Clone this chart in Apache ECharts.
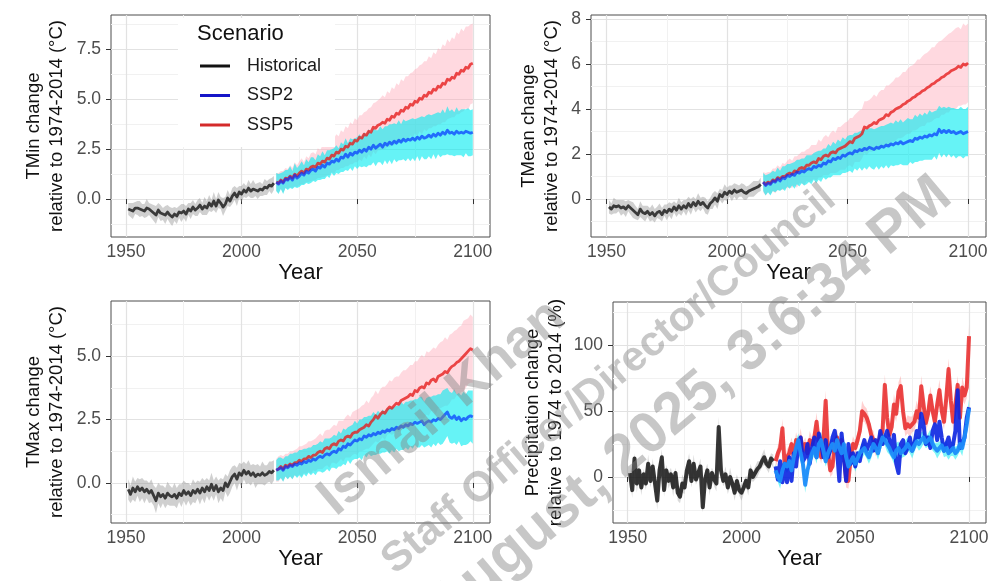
<!DOCTYPE html>
<html>
<head>
<meta charset="utf-8">
<script src="https://cdn.jsdelivr.net/npm/echarts@6/dist/echarts.min.js"></script>
<style>
  html, body { margin: 0; padding: 0; background: #fff; }
  #chart { width: 997px; height: 581px; }
</style>
</head>
<body>
<div id="chart"></div>
<script>
// ---- years -------------------------------------------------------------
const histYears = Array.from({ length: 64 }, (_, i) => 1951 + i);   // 1951-2014
const futureYears = Array.from({ length: 86 }, (_, i) => 2015 + i); // 2015-2100

// ---- tick labels ---------------------------------------------------------
const xTicks = [1950, 2000, 2050, 2100];
const xMinorTicks = [1975, 2025, 2075];

// ---- TMin (°C) -------------------------------------------------------------
const tminHist = [
  -0.5, -0.55, -0.6, -0.45, -0.45, -0.5, -0.55, -0.6, -0.45, -0.5,
  -0.6, -0.7, -0.8, -0.55, -0.7, -0.75, -0.8, -0.65, -0.8, -0.9,
  -0.75, -0.85, -0.65, -0.7, -0.6, -0.75, -0.5, -0.6, -0.4, -0.55,
  -0.45, -0.3, -0.5, -0.35, -0.45, -0.2, -0.35, -0.1, -0.35, -0.05,
  -0.2, -0.4, -0.25, 0.05, -0.1, 0.15, 0.3, 0.1, 0.35, 0.25,
  0.45, 0.35, 0.55, 0.4, 0.5, 0.45, 0.4, 0.5, 0.45, 0.6,
  0.55, 0.7, 0.65, 0.8
];
const tminHistSpread = [
  0.3, 0.35, 0.4, 0.3, 0.35, 0.4, 0.3, 0.35, 0.45, 0.3,
  0.35, 0.4, 0.45, 0.35, 0.4, 0.3, 0.45, 0.35, 0.4, 0.45,
  0.35, 0.4, 0.3, 0.45, 0.35, 0.4, 0.3, 0.4, 0.35, 0.3,
  0.4, 0.35, 0.3, 0.45, 0.35, 0.4, 0.3, 0.45, 0.35, 0.4,
  0.3, 0.45, 0.35, 0.4, 0.3, 0.4, 0.35, 0.45, 0.3, 0.4,
  0.35, 0.3, 0.4, 0.35, 0.45, 0.3, 0.4, 0.35, 0.3, 0.4,
  0.35, 0.3, 0.4, 0.35
];
const tminSsp2 = [
  0.85, 0.75, 0.9, 0.8, 1.0, 0.95,
  1.1, 0.95, 1.2, 1.05, 1.15, 1.3, 1.2, 1.4, 1.3, 1.45,
  1.5, 1.4, 1.6, 1.55, 1.7, 1.6, 1.8, 1.75, 1.9, 1.85,
  2.0, 1.9, 2.1, 2.05, 2.25, 2.1, 2.3, 2.2, 2.35, 2.3,
  2.45, 2.35, 2.5, 2.4, 2.6, 2.5, 2.7, 2.55, 2.65, 2.75,
  2.6, 2.8, 2.7, 2.85, 2.75, 2.9, 2.8, 2.95, 2.85, 3.0,
  2.9, 3.0, 2.95, 3.05, 2.95, 3.1, 3.0, 3.15, 3.05, 3.1,
  3.2, 3.1, 3.25, 3.15, 3.3, 3.2, 3.35, 3.25, 3.45, 3.3,
  3.35, 3.25, 3.4, 3.3, 3.35, 3.3, 3.4, 3.35, 3.3, 3.35
];
const tminSsp2Spread = [
  0.45, 0.5, 0.4, 0.55, 0.45, 0.5,
  0.55, 0.45, 0.6, 0.5, 0.55, 0.6, 0.5, 0.6, 0.55, 0.65,
  0.6, 0.55, 0.65, 0.6, 0.7, 0.6, 0.65, 0.7, 0.6, 0.7,
  0.7, 0.65, 0.75, 0.7, 0.8, 0.7, 0.75, 0.8, 0.7, 0.8,
  0.8, 0.75, 0.85, 0.8, 0.9, 0.8, 0.85, 0.9, 0.8, 0.9,
  0.9, 0.85, 0.95, 0.9, 1.0, 0.9, 0.95, 1.0, 0.9, 1.0,
  1.0, 0.95, 1.05, 1.0, 1.05, 0.95, 1.1, 1.0, 1.05, 1.1,
  1.05, 1.1, 1.0, 1.15, 1.05, 1.1, 1.15, 1.05, 1.2, 1.1,
  1.15, 1.1, 1.2, 1.1, 1.15, 1.2, 1.1, 1.2, 1.15, 1.15
];
const tminSsp5 = [
  0.85, 0.8, 0.95, 0.85, 1.05, 1.0,
  1.15, 1.05, 1.25, 1.15, 1.3, 1.4, 1.3, 1.5, 1.45, 1.6,
  1.65, 1.6, 1.8, 1.75, 1.9, 1.85, 2.05, 2.0, 2.2, 2.15,
  2.35, 2.3, 2.5, 2.45, 2.65, 2.6, 2.8, 2.75, 2.95, 2.9,
  3.1, 3.05, 3.25, 3.2, 3.4, 3.35, 3.6, 3.55, 3.7, 3.75,
  3.85, 3.8, 4.0, 3.95, 4.15, 4.1, 4.3, 4.25, 4.45, 4.4,
  4.6, 4.55, 4.75, 4.7, 4.9, 4.85, 5.05, 5.0, 5.2, 5.15,
  5.35, 5.3, 5.5, 5.45, 5.65, 5.6, 5.8, 5.75, 6.0, 5.95,
  6.1, 6.05, 6.3, 6.25, 6.45, 6.4, 6.6, 6.55, 6.75, 6.8
];
const tminSsp5Spread = [
  0.45, 0.5, 0.45, 0.55, 0.5, 0.5,
  0.55, 0.5, 0.6, 0.55, 0.6, 0.65, 0.55, 0.65, 0.6, 0.7,
  0.7, 0.65, 0.75, 0.7, 0.8, 0.75, 0.85, 0.8, 0.85, 0.9,
  0.9, 0.85, 0.95, 0.9, 1.0, 0.95, 1.05, 1.0, 1.1, 1.05,
  1.1, 1.15, 1.1, 1.2, 1.15, 1.25, 1.2, 1.3, 1.25, 1.3,
  1.35, 1.3, 1.4, 1.35, 1.45, 1.4, 1.5, 1.45, 1.55, 1.5,
  1.55, 1.6, 1.55, 1.65, 1.6, 1.7, 1.65, 1.75, 1.7, 1.75,
  1.8, 1.75, 1.85, 1.8, 1.9, 1.85, 1.95, 1.9, 2.0, 1.9,
  2.0, 1.95, 2.05, 2.0, 2.1, 2.0, 2.05, 2.1, 2.0, 2.0
];

// ---- TMean (°C) ------------------------------------------------------------
const tmeanHist = [
  -0.35, -0.45, -0.3, -0.35, -0.3, -0.4, -0.35, -0.45, -0.3, -0.4,
  -0.5, -0.6, -0.7, -0.45, -0.6, -0.65, -0.55, -0.7, -0.6, -0.75,
  -0.6, -0.55, -0.7, -0.5, -0.6, -0.45, -0.55, -0.35, -0.5, -0.3,
  -0.45, -0.3, -0.4, -0.2, -0.35, -0.15, -0.3, -0.1, -0.25, -0.15,
  -0.3, -0.4, -0.2, -0.1, 0.05, -0.1, 0.2, 0.1, 0.3, 0.2,
  0.35, 0.25, 0.4, 0.3, 0.35, 0.4, 0.3, 0.25, 0.35, 0.4,
  0.45, 0.5, 0.55, 0.65
];
const tmeanHistSpread = [
  0.3, 0.25, 0.35, 0.3, 0.25, 0.35, 0.3, 0.35, 0.25, 0.3,
  0.35, 0.3, 0.25, 0.35, 0.3, 0.35, 0.25, 0.3, 0.35, 0.3,
  0.25, 0.35, 0.3, 0.25, 0.35, 0.3, 0.35, 0.25, 0.3, 0.35,
  0.3, 0.25, 0.35, 0.3, 0.35, 0.25, 0.3, 0.35, 0.3, 0.25,
  0.35, 0.3, 0.25, 0.35, 0.3, 0.35, 0.25, 0.3, 0.35, 0.3,
  0.25, 0.35, 0.3, 0.35, 0.25, 0.3, 0.35, 0.3, 0.25, 0.3,
  0.35, 0.3, 0.25, 0.3
];
const tmeanSsp2 = [
  0.75, 0.6, 0.7, 0.65, 0.8, 0.75,
  0.9, 0.8, 0.95, 0.9, 1.05, 1.0, 1.1, 1.05, 1.2, 1.15,
  1.25, 1.2, 1.3, 1.35, 1.3, 1.45, 1.4, 1.5, 1.45, 1.6,
  1.55, 1.7, 1.65, 1.8, 1.75, 1.85, 1.8, 1.95, 1.9, 2.0,
  2.05, 2.0, 2.15, 2.1, 2.2, 2.15, 2.25, 2.2, 2.3, 2.25,
  2.2, 2.3, 2.25, 2.35, 2.3, 2.4, 2.35, 2.45, 2.4, 2.5,
  2.45, 2.55, 2.45, 2.5, 2.55, 2.6, 2.55, 2.7, 2.65, 2.75,
  2.7, 2.8, 2.75, 2.85, 2.8, 2.9, 2.85, 3.1, 2.95, 3.05,
  2.95, 3.05, 2.95, 3.0, 2.9, 2.95, 3.0, 2.9, 2.95, 3.0
];
const tmeanSsp2Spread = [
  0.4, 0.45, 0.4, 0.5, 0.45, 0.45,
  0.5, 0.45, 0.5, 0.55, 0.5, 0.55, 0.5, 0.6, 0.55, 0.6,
  0.55, 0.6, 0.65, 0.6, 0.65, 0.6, 0.7, 0.65, 0.7, 0.65,
  0.7, 0.75, 0.7, 0.75, 0.7, 0.8, 0.75, 0.8, 0.75, 0.8,
  0.8, 0.85, 0.8, 0.85, 0.8, 0.9, 0.85, 0.9, 0.85, 0.9,
  0.9, 0.85, 0.95, 0.9, 0.95, 0.9, 1.0, 0.95, 0.95, 1.0,
  0.95, 1.0, 0.95, 1.0, 1.05, 0.95, 1.0, 1.05, 1.0, 1.05,
  1.0, 1.05, 1.0, 1.1, 1.05, 1.0, 1.1, 1.05, 1.1, 1.05,
  1.1, 1.05, 1.1, 1.05, 1.1, 1.05, 1.1, 1.1, 1.05, 1.1
];
const tmeanSsp5 = [
  0.75, 0.65, 0.75, 0.7, 0.85, 0.8,
  0.95, 0.9, 1.0, 1.0, 1.1, 1.15, 1.1, 1.25, 1.2, 1.35,
  1.4, 1.35, 1.5, 1.5, 1.6, 1.65, 1.6, 1.8, 1.75, 1.9,
  1.95, 1.9, 2.05, 2.1, 2.05, 2.2, 2.25, 2.3, 2.35, 2.45,
  2.55, 2.5, 2.7, 2.75, 2.8, 2.9, 3.2, 3.15, 3.25, 3.3,
  3.4, 3.35, 3.5, 3.55, 3.6, 3.75, 3.7, 3.85, 3.9, 4.0,
  4.05, 4.1, 4.2, 4.25, 4.35, 4.4, 4.5, 4.55, 4.65, 4.7,
  4.8, 4.85, 4.95, 5.0, 5.1, 5.15, 5.25, 5.3, 5.4, 5.45,
  5.55, 5.6, 5.7, 5.75, 5.8, 5.9, 5.85, 6.0, 5.95, 6.05
];
const tmeanSsp5Spread = [
  0.45, 0.5, 0.45, 0.5, 0.5, 0.55,
  0.55, 0.5, 0.6, 0.55, 0.6, 0.65, 0.6, 0.65, 0.7, 0.65,
  0.7, 0.75, 0.7, 0.75, 0.8, 0.75, 0.8, 0.85, 0.8, 0.85,
  0.9, 0.85, 0.9, 0.95, 0.9, 1.0, 0.95, 1.0, 1.05, 1.0,
  1.05, 1.1, 1.05, 1.1, 1.15, 1.1, 1.15, 1.2, 1.15, 1.2,
  1.25, 1.2, 1.25, 1.3, 1.25, 1.3, 1.35, 1.3, 1.35, 1.4,
  1.35, 1.4, 1.45, 1.4, 1.45, 1.5, 1.45, 1.5, 1.55, 1.5,
  1.55, 1.6, 1.55, 1.6, 1.65, 1.6, 1.65, 1.7, 1.65, 1.7,
  1.7, 1.75, 1.7, 1.75, 1.8, 1.75, 1.7, 1.8, 1.75, 1.75
];

// ---- TMax (°C) -------------------------------------------------------------
const tmaxHist = [
  -0.25, -0.45, -0.2, -0.35, -0.15, -0.3, -0.2, -0.35, -0.25, -0.4,
  -0.3, -0.5, -0.7, -0.4, -0.55, -0.45, -0.6, -0.4, -0.5, -0.55,
  -0.45, -0.6, -0.4, -0.5, -0.3, -0.45, -0.35, -0.5, -0.3, -0.4,
  -0.25, -0.4, -0.2, -0.35, -0.15, -0.3, -0.05, -0.3, -0.1, -0.35,
  -0.2, -0.3, 0.0, -0.15, 0.05, 0.25, 0.35, 0.15, 0.4, 0.3,
  0.5, 0.35, 0.45, 0.3, 0.4, 0.25, 0.35, 0.3, 0.4, 0.3,
  0.35, 0.45, 0.4, 0.5
];
const tmaxHistSpread = [
  0.4, 0.35, 0.45, 0.4, 0.35, 0.45, 0.4, 0.45, 0.35, 0.4,
  0.45, 0.4, 0.5, 0.4, 0.45, 0.35, 0.4, 0.45, 0.4, 0.35,
  0.45, 0.4, 0.35, 0.45, 0.4, 0.45, 0.35, 0.4, 0.45, 0.4,
  0.35, 0.45, 0.4, 0.45, 0.35, 0.4, 0.45, 0.4, 0.35, 0.45,
  0.4, 0.45, 0.35, 0.4, 0.45, 0.4, 0.35, 0.45, 0.4, 0.45,
  0.35, 0.4, 0.45, 0.4, 0.35, 0.45, 0.4, 0.35, 0.45, 0.4,
  0.35, 0.4, 0.45, 0.4
];
const tmaxSsp2 = [
  0.5, 0.55, 0.6, 0.5, 0.65, 0.6,
  0.7, 0.65, 0.75, 0.7, 0.8, 0.75, 0.85, 0.8, 0.9, 0.85,
  0.95, 0.9, 1.0, 1.05, 1.0, 1.1, 1.15, 1.1, 1.2, 1.25,
  1.2, 1.35, 1.3, 1.45, 1.4, 1.55, 1.5, 1.6, 1.7, 1.65,
  1.75, 1.7, 1.85, 1.8, 1.9, 1.85, 1.95, 1.9, 2.0, 1.95,
  2.05, 2.0, 2.1, 2.05, 2.15, 2.1, 2.2, 2.15, 2.25, 2.2,
  2.3, 2.25, 2.35, 2.3, 2.4, 2.35, 2.4, 2.45, 2.3, 2.4,
  2.45, 2.4, 2.5, 2.45, 2.55, 2.5, 2.6, 2.7, 2.8, 2.6,
  2.55, 2.65, 2.5, 2.6, 2.45, 2.55, 2.5, 2.6, 2.65, 2.6
];
const tmaxSsp2Spread = [
  0.4, 0.45, 0.4, 0.45, 0.4, 0.45,
  0.45, 0.5, 0.45, 0.5, 0.5, 0.55, 0.5, 0.55, 0.5, 0.55,
  0.55, 0.6, 0.55, 0.6, 0.6, 0.65, 0.6, 0.65, 0.6, 0.65,
  0.65, 0.7, 0.65, 0.7, 0.7, 0.65, 0.75, 0.7, 0.75, 0.7,
  0.75, 0.8, 0.75, 0.8, 0.75, 0.8, 0.85, 0.8, 0.85, 0.8,
  0.85, 0.8, 0.85, 0.9, 0.85, 0.9, 0.85, 0.9, 0.95, 0.9,
  0.9, 0.95, 0.9, 0.95, 0.9, 0.95, 1.0, 0.95, 0.9, 0.95,
  0.95, 1.0, 0.95, 1.0, 0.95, 1.0, 1.05, 1.0, 0.95, 1.0,
  1.0, 1.05, 1.0, 0.95, 1.0, 1.05, 1.0, 1.05, 1.0, 1.05
];
const tmaxSsp5 = [
  0.5, 0.55, 0.65, 0.55, 0.7, 0.65,
  0.75, 0.7, 0.8, 0.8, 0.9, 0.85, 0.95, 0.95, 1.05, 1.0,
  1.1, 1.1, 1.2, 1.25, 1.2, 1.35, 1.4, 1.35, 1.5, 1.55,
  1.5, 1.65, 1.7, 1.65, 1.8, 1.85, 1.8, 1.95, 2.0, 2.0,
  2.1, 2.15, 2.2, 2.3, 2.25, 2.4, 2.5, 2.65, 2.55, 2.7,
  2.8, 2.75, 2.9, 3.0, 2.95, 3.05, 3.15, 3.1, 3.25, 3.3,
  3.35, 3.4, 3.5, 3.45, 3.65, 3.6, 3.75, 3.8, 3.75, 3.95,
  3.9, 4.05, 4.1, 4.0, 4.2, 4.25, 4.3, 4.4, 4.35, 4.5,
  4.6, 4.65, 4.75, 4.8, 4.9, 5.0, 5.1, 5.2, 5.3, 5.25
];
const tmaxSsp5Spread = [
  0.45, 0.5, 0.45, 0.5, 0.45, 0.5,
  0.5, 0.55, 0.5, 0.55, 0.55, 0.6, 0.55, 0.6, 0.6, 0.65,
  0.6, 0.65, 0.65, 0.7, 0.65, 0.7, 0.7, 0.75, 0.7, 0.75,
  0.75, 0.8, 0.75, 0.8, 0.8, 0.85, 0.8, 0.85, 0.85, 0.9,
  0.85, 0.9, 0.9, 0.95, 0.9, 0.95, 0.95, 1.0, 0.95, 1.0,
  1.0, 1.05, 1.0, 1.05, 1.05, 1.1, 1.05, 1.1, 1.1, 1.15,
  1.1, 1.15, 1.15, 1.2, 1.15, 1.2, 1.2, 1.25, 1.2, 1.25,
  1.25, 1.2, 1.25, 1.3, 1.25, 1.3, 1.3, 1.35, 1.3, 1.35,
  1.3, 1.35, 1.3, 1.35, 1.3, 1.4, 1.35, 1.3, 1.35, 1.3
];

// ---- Precipitation (%) ---------------------------------------------------
const precHist = [
  3, -10, 14, -5, 5, -8, 2, -5, 10, -3,
  8, -5, -18, 5, 15, -10, 5, -3, 2, -8,
  3, -12, -15, -5, -8, 5, 12, -3, 10, -2,
  3, 8, -23, -2, 5, -8, 3, -2, -5, 38,
  5, -3, 2, -8, 0, -5, -12, -3, -10, -12,
  -8, -3, -8, 5, 0, 3, 6, 8, 12, 15,
  10, 8, 14, 12
];
const precHistSpread = [
  5, 6, 4, 7, 5, 6, 4, 5, 7, 5,
  6, 4, 7, 5, 6, 5, 4, 6, 5, 7,
  4, 6, 5, 7, 5, 4, 6, 5, 7, 4,
  5, 6, 4, 7, 5, 6, 4, 5, 6, 8,
  5, 4, 6, 5, 7, 4, 6, 5, 4, 6,
  5, 4, 6, 5, 4, 5, 6, 4, 5, 6,
  4, 5, 4, 5
];
const precSsp5 = [
  12, 18, 22, 37, 8, 15,
  18, 25, 15, 28, 22, 30, 20, 25, 18, 28,
  25, 30, 42, 25, 15, 28, 58, 20, 5, 8,
  25, 30, 22, 28, 18, -3, -3, 15, 25, 22,
  28, 35, 50, 48, 45, 40, 32, 28, 22, 25,
  30, 35, 70, 45, 32, 38, 55, 48, 65, 69,
  50, 37, 40, 38, 40, 42, 50, 45, 69, 55,
  41, 48, 62, 50, 42, 55, 66, 50, 42, 60,
  82, 58, 42, 55, 70, 45, 68, 62, 68, 107
];
const precSsp5Spread = [
  5, 6, 5, 7, 5, 6,
  6, 5, 7, 6, 5, 7, 6, 5, 6, 7,
  5, 6, 7, 6, 5, 6, 8, 6, 5, 6,
  7, 6, 5, 7, 6, 5, 6, 7, 6, 5,
  6, 7, 8, 6, 7, 6, 5, 7, 6, 7,
  6, 7, 8, 7, 6, 7, 8, 6, 7, 8,
  7, 6, 7, 8, 6, 7, 8, 7, 8, 7,
  6, 8, 7, 8, 6, 7, 8, 7, 6, 8,
  8, 7, 6, 8, 7, 6, 8, 7, 8, 9
];
const precSsp2 = [
  8, -2, 12, -4, 10, -4,
  15, -3, 18, 8, 25, 30, 12, 15, 25, 10,
  22, 30, 15, 33, 25, 15, 28, 15, 20, 30,
  35, 20, -3, 33, 15, -3, 25, 10, 18, 8,
  18, 12, 22, 28, 20, 25, 30, 20, 28, 22,
  35, 25, 30, 35, 28, 20, 32, 10, 3, 25,
  28, 18, 22, 30, 20, 25, 35, 30, 48, 40,
  25, 30, 22, 35, 40, 28, 42, 30, 20, 25,
  30, 20, 25, 35, 66, 22, 25, 30, 45, 53
];
const precSsp2Mean = [
  5, 0, -3, 5, 10, 8,
  12, 5, 15, 22, 28, 18, 10, -6, 5, 12,
  18, 22, 15, 25, 28, 20, 12, 18, 22, 25,
  20, 28, 22, 18, 25, 15, 8, 12, 15, 10,
  14, 18, 20, 22, 18, 15, 20, 25, 22, 18,
  25, 30, 28, 25, 22, 18, 15, 20, 22, 18,
  20, 22, 25, 22, 20, 24, 27, 25, 28, 30,
  26, 28, 30, 25, 22, 20, 22, 24, 20, 22,
  18, 20, 22, 18, 20, 25, 22, 30, 40, 52
];
const precSsp2Spread = [
  5, 4, 6, 5, 4, 5,
  6, 5, 4, 6, 5, 6, 5, 6, 5, 4,
  5, 6, 5, 4, 6, 5, 4, 5, 6, 5,
  4, 5, 6, 5, 4, 6, 5, 4, 5, 6,
  5, 4, 6, 5, 4, 5, 6, 5, 4, 5,
  6, 5, 4, 6, 5, 4, 5, 6, 5, 4,
  5, 6, 5, 4, 6, 5, 4, 5, 6, 5,
  4, 5, 6, 5, 4, 6, 5, 4, 5, 6,
  5, 4, 6, 5, 4, 5, 6, 5, 6, 7
];

// ---- styling ---------------------------------------------------------------
const FONT = '"Liberation Sans", Arial, Helvetica, sans-serif';
const COL = {
  histBand: 'rgba(150,150,150,0.45)',
  histLine: 'rgba(0,0,0,0.72)',
  ssp5Band: 'rgba(255,165,182,0.42)',
  ssp5Line: 'rgba(230,30,30,0.8)',
  ssp2Band: 'rgba(0,235,240,0.6)',
  ssp2Line: 'rgba(0,45,255,0.68)'
};

const panels = [
  { grid: { left: 111, top: 15, width: 379, height: 222 },
    yMin: -1.9, yMax: 9.22, yMajor: [0, 2.5, 5, 7.5], yMinor: [-1.25, 1.25, 3.75, 6.25, 8.75],
    yFmt: v => v.toFixed(1), yName: 'TMin change\nrelative to 1974-2014 (°C)', nameGap: 43 },
  { grid: { left: 591, top: 15, width: 395, height: 222 },
    yMin: -1.69, yMax: 8.18, yMajor: [0, 2, 4, 6, 8], yMinor: [-1, 1, 3, 5, 7],
    yFmt: v => String(v), yName: 'TMean change\nrelative to 1974-2014 (°C)', nameGap: 28 },
  { grid: { left: 111, top: 301, width: 379, height: 222 },
    yMin: -1.58, yMax: 7.18, yMajor: [0, 2.5, 5], yMinor: [-1.25, 1.25, 3.75, 6.25],
    yFmt: v => v.toFixed(1), yName: 'TMax change\nrelative to 1974-2014 (°C)', nameGap: 43 },
  { grid: { left: 613, top: 302, width: 373, height: 221 },
    yMin: -35, yMax: 133, yMajor: [0, 50, 100], yMinor: [-25, 25, 75, 125],
    yFmt: v => String(v), yName: 'Precipitation change\nrelative to 1974 to 2014 (%)', nameGap: 46 }
];

const grids = [], xAxes = [], yAxes = [];
panels.forEach((p, g) => {
  grids.push(Object.assign({ show: true, borderColor: '#4d4d4d', borderWidth: 1, backgroundColor: '#fff' }, p.grid));
  // major x axis
  xAxes.push({
    gridIndex: g, type: 'value', min: 1943.55, max: 2107.45,
    axisLine: { show: false },
    axisTick: { show: true, length: 5, lineStyle: { color: '#333', width: 1 }, customValues: xTicks },
    axisLabel: { customValues: xTicks, formatter: v => String(v), color: '#4d4d4d', fontSize: 17.5, margin: 6, fontFamily: FONT },
    splitLine: { show: true, lineStyle: { color: '#e2e2e2', width: 1.2 } },
    name: 'Year', nameLocation: 'middle', nameGap: 25,
    nameTextStyle: { color: '#111', fontSize: 22, fontFamily: FONT }
  });
  // minor x grid
  xAxes.push({
    gridIndex: g, type: 'value', min: 1943.55, max: 2107.45,
    axisLine: { show: false }, axisLabel: { show: false },
    axisTick: { show: false, customValues: xMinorTicks },
    splitLine: { show: true, lineStyle: { color: '#f1f1f1', width: 1 } }
  });
  yAxes.push({
    gridIndex: g, type: 'value', min: p.yMin, max: p.yMax,
    axisLine: { show: false },
    axisTick: { show: true, length: 5, lineStyle: { color: '#333', width: 1 }, customValues: p.yMajor },
    axisLabel: { customValues: p.yMajor, formatter: p.yFmt, color: '#4d4d4d', fontSize: 17.5, margin: 10, fontFamily: FONT },
    splitLine: { show: true, lineStyle: { color: '#e2e2e2', width: 1.2 } },
    name: p.yName, nameLocation: 'middle', nameGap: p.nameGap,
    nameTextStyle: { color: '#111', fontSize: 18.5, lineHeight: 23, fontFamily: FONT, align: 'center' }
  });
  yAxes.push({
    gridIndex: g, type: 'value', min: p.yMin, max: p.yMax,
    axisLine: { show: false }, axisLabel: { show: false },
    axisTick: { show: false, customValues: p.yMinor },
    splitLine: { show: true, lineStyle: { color: '#f1f1f1', width: 1 } }
  });
});

// shaded uncertainty band drawn as one polygon through the axis scales
function bandSeries(g, years, mean, spread, fill) {
  const hi = mean.map((v, i) => v + spread[i]);
  const lo = mean.map((v, i) => v - spread[i]);
  return {
    type: 'custom', xAxisIndex: 2 * g, yAxisIndex: 2 * g, silent: true, clip: true,
    data: years.map((y, i) => [y, lo[i], hi[i]]),
    encode: { x: 0, y: [1, 2] },
    renderItem: (params, api) => {
      if (params.dataIndex !== 0) return null;
      const pts = [];
      for (let i = 0; i < years.length; i++) pts.push(api.coord([years[i], hi[i]]));
      for (let i = years.length - 1; i >= 0; i--) pts.push(api.coord([years[i], lo[i]]));
      return { type: 'polygon', shape: { points: pts }, style: { fill: fill } };
    }
  };
}
function lineSeries(g, name, years, vals, color, width) {
  return {
    type: 'line', name: name, xAxisIndex: 2 * g, yAxisIndex: 2 * g,
    data: years.map((y, i) => [y, vals[i]]),
    showSymbol: false, symbol: 'none', silent: true,
    lineStyle: { color: color, width: width, join: 'round' },
    itemStyle: { color: color }
  };
}

const tempPanels = [
  [tminHist, tminHistSpread, tminSsp2, tminSsp2Spread, tminSsp5, tminSsp5Spread],
  [tmeanHist, tmeanHistSpread, tmeanSsp2, tmeanSsp2Spread, tmeanSsp5, tmeanSsp5Spread],
  [tmaxHist, tmaxHistSpread, tmaxSsp2, tmaxSsp2Spread, tmaxSsp5, tmaxSsp5Spread]
];
const series = [];
tempPanels.forEach((d, g) => {
  series.push(bandSeries(g, histYears, d[0], d[1], COL.histBand));
  series.push(lineSeries(g, 'Historical', histYears, d[0], COL.histLine, 2.8));
  series.push(bandSeries(g, futureYears, d[4], d[5], COL.ssp5Band));
  series.push(lineSeries(g, 'SSP5', futureYears, d[4], COL.ssp5Line, 2.8));
  series.push(bandSeries(g, futureYears, d[2], d[3], COL.ssp2Band));
  series.push(lineSeries(g, 'SSP2', futureYears, d[2], COL.ssp2Line, 2.8));
});
// precipitation panel
series.push(bandSeries(3, histYears, precHist, precHistSpread, 'rgba(150,150,150,0.35)'));
series.push(lineSeries(3, 'Historical', histYears, precHist, 'rgba(20,20,20,0.85)', 4));
series.push(bandSeries(3, futureYears, precSsp5, precSsp5Spread, 'rgba(255,120,120,0.35)'));
series.push(lineSeries(3, 'SSP5', futureYears, precSsp5, 'rgba(232,40,40,0.85)', 4));
series.push(bandSeries(3, futureYears, precSsp2Mean, precSsp2Spread, 'rgba(0,235,240,0.5)'));
series.push(lineSeries(3, 'SSP2', futureYears, precSsp2, 'rgba(10,35,225,0.9)', 4));
series.push(lineSeries(3, 'SSP2', futureYears, precSsp2Mean, 'rgba(30,140,250,0.95)', 4));

// diagonal stamp text laid over the figure
const stampFill = 'rgba(130,130,130,0.45)';
const stampAngle = 0.7;
function stamp(text, x, y, size) {
  return { type: 'text', x: x, y: y, rotation: stampAngle, z: 100, silent: true,
    style: { text: text, font: 'bold ' + size + 'px ' + FONT, fill: stampFill,
      textAlign: 'center', textVerticalAlign: 'middle' } };
}

const option = {
  animation: false,
  backgroundColor: '#fff',
  textStyle: { fontFamily: FONT },
  grid: grids,
  xAxis: xAxes,
  yAxis: yAxes,
  legend: {
    data: [
      { name: 'Historical', itemStyle: { color: '#111' } },
      { name: 'SSP2', itemStyle: { color: '#1515c8' } },
      { name: 'SSP5', itemStyle: { color: '#d42a2a' } }
    ],
    orient: 'vertical', left: 178, top: 18,
    padding: [38, 14, 12, 22],
    backgroundColor: '#fff',
    icon: 'rect', itemWidth: 30, itemHeight: 3, itemGap: 9.5,
    selectedMode: false,
    textStyle: { fontSize: 18, color: '#1a1a1a', lineHeight: 20, padding: [0, 0, 0, 12], fontFamily: FONT }
  },
  graphic: [
    { type: 'text', left: 197, top: 23, z: 100,
      style: { text: 'Scenario', font: '22px ' + FONT, fill: '#111' } },
    stamp('Ismail Khan', 442, 408, 54),
    stamp('Staff Officer/Director/Council', 609, 380, 42),
    stamp('August, 2025, 3:6:34 PM', 690, 402, 58)
  ],
  series: series
};

const chart = echarts.init(document.getElementById('chart'), null, { renderer: 'canvas' });
chart.setOption(option);
</script>
</body>
</html>
